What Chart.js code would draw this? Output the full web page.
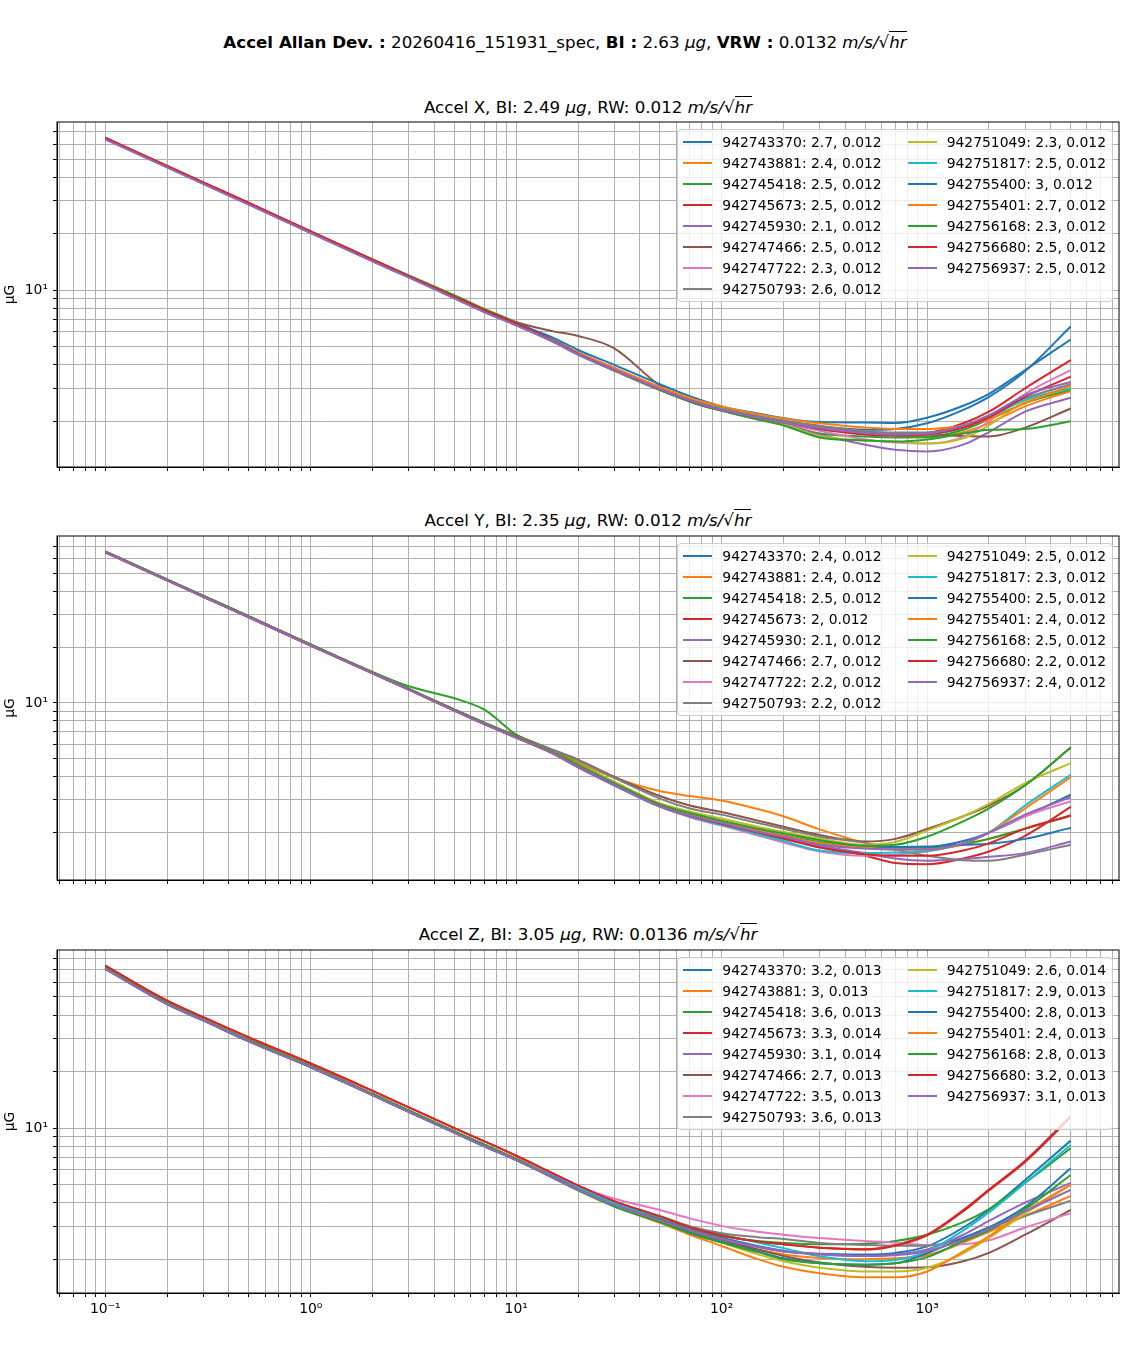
<!DOCTYPE html>
<html>
<head>
<meta charset="utf-8">
<script src="https://cdn.jsdelivr.net/npm/chart.js@4.4.1/dist/chart.umd.min.js"></script>
<style>
  body { margin: 0; background: #fff; font-family: "DejaVu Sans", sans-serif; color: #000; }
  #fig { position: relative; width: 1130px; height: 1361px; overflow: hidden; }
  canvas { position: absolute; left: 0; }
  .ttl { position: absolute; left: 57px; width: 1062px; text-align: center; font-size: 16.7px; line-height: 20px; white-space: nowrap; }
  .sup { position: absolute; left: 0; width: 1130px; top: 32px; text-align: center; font-size: 16.7px; line-height: 20px; white-space: nowrap; }
  .ov { border-top: 1px solid #000; }
  .leg { position: absolute; right: 17px; z-index: 2; background: rgba(255,255,255,0.8);
         border: 1px solid #cccccc; border-radius: 4px; padding: 5px 6px 5px 5px;
         display: grid; grid-template-rows: repeat(8, 14px); grid-auto-flow: column;
         row-gap: 7px; column-gap: 26px; font-size: 13.9px; line-height: 14px; }
  .item { display: flex; align-items: center; white-space: nowrap; }
  .hd { width: 29px; height: 2px; margin-right: 10px; }
</style>
</head>
<body>
<div id="fig">
  <div class="sup" id="sup"></div>
  <div class="ttl" id="t0" style="top:97px"></div>
  <div class="ttl" id="t1" style="top:510px"></div>
  <div class="ttl" id="t2" style="top:924px"></div>
  <canvas id="c0" width="1130" height="366" style="top:114px"></canvas>
  <canvas id="c1" width="1130" height="366" style="top:528px"></canvas>
  <canvas id="c2" width="1130" height="419" style="top:942px"></canvas>
  <div class="leg" id="l0" style="top:129px"></div>
  <div class="leg" id="l1" style="top:543px"></div>
  <div class="leg" id="l2" style="top:957px"></div>
</div>
<script>
// averaging times (s)
const taus = [0.1, 0.2, 0.3, 0.5, 1, 2, 3, 5, 7, 10, 15, 20, 30, 50, 70, 100, 150, 200, 300, 500, 700, 1000, 1500, 2000, 3000, 5000];

const serials = ['942743370', '942743881', '942745418', '942745673', '942745930', '942747466', '942747722', '942750793',
                 '942751049', '942751817', '942755400', '942755401', '942756168', '942756680', '942756937'];

const biX = [2.7, 2.4, 2.5, 2.5, 2.1, 2.5, 2.3, 2.6, 2.3, 2.5, 3, 2.7, 2.3, 2.5, 2.5];
const rwX = [0.012, 0.012, 0.012, 0.012, 0.012, 0.012, 0.012, 0.012, 0.012, 0.012, 0.012, 0.012, 0.012, 0.012, 0.012];
const biY = [2.4, 2.4, 2.5, 2, 2.1, 2.7, 2.2, 2.2, 2.5, 2.3, 2.5, 2.4, 2.5, 2.2, 2.4];
const rwY = [0.012, 0.012, 0.012, 0.012, 0.012, 0.012, 0.012, 0.012, 0.012, 0.012, 0.012, 0.012, 0.012, 0.012, 0.012];
const biZ = [3.2, 3, 3.6, 3.3, 3.1, 2.7, 3.5, 3.6, 2.6, 2.9, 2.8, 2.4, 2.8, 3.2, 3.1];
const rwZ = [0.013, 0.013, 0.013, 0.014, 0.014, 0.013, 0.013, 0.013, 0.014, 0.013, 0.013, 0.013, 0.013, 0.013, 0.013];

const panelNames = ['Accel X', 'Accel Y', 'Accel Z'];
const panelBI = [2.49, 2.35, 3.05];
const panelRW = [0.012, 0.012, 0.0136];
const runName = '20260416_151931_spec';
const totalBI = 2.63;
const totalVRW = 0.0132;

// Allan deviation, µG, one row per sensor
const adevX = [
  [64.5, 45.6, 37.3, 28.9, 20.4, 14.4, 11.8, 9.15, 7.75, 6.6, 5.45, 4.65, 3.85, 3.02, 2.63, 2.34, 2.12, 2.0, 1.88, 1.8, 1.82, 1.95, 2.3, 2.7, 3.7, 6.4],
  [64.5, 45.6, 37.3, 28.9, 20.4, 14.4, 11.8, 9.15, 7.75, 6.6, 5.4, 4.62, 3.82, 3.02, 2.64, 2.36, 2.13, 2.01, 1.88, 1.75, 1.68, 1.64, 1.75, 1.95, 2.4, 2.9],
  [64.5, 45.6, 37.4, 29.1, 20.6, 14.6, 12.0, 9.4, 7.95, 6.75, 5.45, 4.6, 3.75, 2.95, 2.55, 2.28, 2.05, 1.92, 1.72, 1.66, 1.64, 1.65, 1.8, 2.05, 2.5, 2.95],
  [65.1, 46.0, 37.6, 29.2, 20.6, 14.55, 11.9, 9.25, 7.85, 6.65, 5.4, 4.58, 3.76, 2.97, 2.58, 2.3, 2.09, 1.97, 1.83, 1.73, 1.7, 1.73, 1.95, 2.25, 3.0, 4.24],
  [63.9, 45.2, 36.9, 28.6, 20.2, 14.25, 11.7, 9.05, 7.65, 6.5, 5.32, 4.52, 3.72, 2.93, 2.55, 2.28, 2.07, 1.94, 1.7, 1.5, 1.41, 1.38, 1.5, 1.75, 2.25, 2.67],
  [64.5, 45.6, 37.3, 28.9, 20.4, 14.4, 11.8, 9.15, 7.8, 6.75, 6.05, 5.7, 4.9, 3.1, 2.55, 2.28, 2.1, 1.98, 1.83, 1.74, 1.72, 1.7, 1.67, 1.66, 1.85, 2.34],
  [64.5, 45.6, 37.3, 28.9, 20.4, 14.4, 11.8, 9.15, 7.75, 6.6, 5.38, 4.58, 3.76, 2.96, 2.58, 2.3, 2.08, 1.95, 1.78, 1.6, 1.54, 1.52, 1.65, 2.0, 2.8, 3.75],
  [64.5, 45.6, 37.3, 28.9, 20.4, 14.4, 11.8, 9.15, 7.75, 6.6, 5.42, 4.63, 3.83, 3.02, 2.64, 2.36, 2.14, 2.02, 1.89, 1.77, 1.74, 1.74, 1.88, 2.15, 2.65, 3.15],
  [64.5, 45.6, 37.3, 28.9, 20.4, 14.4, 11.8, 9.15, 7.75, 6.6, 5.38, 4.58, 3.76, 2.95, 2.56, 2.28, 2.05, 1.92, 1.67, 1.58, 1.56, 1.52, 1.62, 1.9, 2.55, 3.0],
  [64.5, 45.6, 37.3, 28.9, 20.4, 14.4, 11.8, 9.15, 7.75, 6.6, 5.4, 4.6, 3.8, 2.99, 2.6, 2.32, 2.1, 1.98, 1.82, 1.72, 1.7, 1.7, 1.85, 2.1, 2.6, 3.0],
  [64.5, 45.6, 37.3, 28.9, 20.4, 14.4, 11.8, 9.15, 7.75, 6.65, 5.6, 4.8, 4.0, 3.15, 2.72, 2.4, 2.2, 2.08, 1.98, 1.97, 1.96, 2.09, 2.42, 2.8, 3.75, 5.46],
  [64.5, 45.6, 37.3, 28.9, 20.4, 14.4, 11.8, 9.15, 7.75, 6.6, 5.42, 4.64, 3.85, 3.05, 2.66, 2.4, 2.18, 2.07, 1.95, 1.85, 1.82, 1.82, 1.9, 2.05, 2.5, 3.1],
  [64.5, 45.6, 37.3, 28.9, 20.4, 14.4, 11.8, 9.15, 7.75, 6.6, 5.38, 4.58, 3.75, 2.94, 2.55, 2.28, 2.04, 1.9, 1.64, 1.58, 1.56, 1.6, 1.72, 1.8, 1.82, 2.0],
  [65.1, 46.0, 37.6, 29.2, 20.6, 14.55, 11.9, 9.25, 7.85, 6.65, 5.4, 4.58, 3.76, 2.97, 2.58, 2.3, 2.09, 1.97, 1.82, 1.7, 1.68, 1.7, 1.85, 2.1, 2.7, 3.46],
  [63.9, 45.2, 36.9, 28.6, 20.2, 14.25, 11.7, 9.05, 7.65, 6.5, 5.36, 4.56, 3.76, 2.97, 2.58, 2.3, 2.09, 1.97, 1.84, 1.73, 1.7, 1.72, 1.9, 2.15, 2.75, 3.24]
];

const adevY = [
  [65.5, 46.2, 37.8, 29.3, 20.6, 14.6, 11.9, 9.2, 7.8, 6.6, 5.4, 4.55, 3.65, 2.82, 2.5, 2.28, 2.04, 1.9, 1.73, 1.66, 1.64, 1.66, 1.8, 2.0, 2.45, 3.2],
  [65.5, 46.2, 37.8, 29.3, 20.6, 14.6, 11.9, 9.2, 7.8, 6.6, 5.55, 4.8, 3.95, 3.35, 3.15, 2.98, 2.68, 2.45, 2.08, 1.76, 1.66, 1.62, 1.72, 1.85, 2.1, 2.47],
  [65.5, 46.2, 37.8, 29.3, 20.6, 14.7, 12.3, 10.6, 9.2, 6.75, 5.5, 4.7, 3.75, 2.85, 2.52, 2.28, 2.05, 1.93, 1.78, 1.68, 1.66, 1.66, 1.74, 1.85, 2.1, 2.46],
  [65.0, 45.8, 37.4, 29.0, 20.4, 14.45, 11.8, 9.1, 7.7, 6.5, 5.35, 4.5, 3.6, 2.76, 2.45, 2.22, 1.98, 1.85, 1.68, 1.5, 1.37, 1.35, 1.45, 1.58, 1.92, 2.75],
  [65.0, 45.8, 37.4, 29.0, 20.4, 14.45, 11.8, 9.1, 7.7, 6.5, 5.38, 4.52, 3.62, 2.78, 2.47, 2.25, 2.02, 1.88, 1.7, 1.55, 1.45, 1.41, 1.44, 1.48, 1.55, 1.79],
  [65.5, 46.2, 37.8, 29.3, 20.6, 14.6, 11.9, 9.2, 7.8, 6.7, 5.6, 4.95, 4.0, 3.15, 2.8, 2.58, 2.32, 2.15, 1.94, 1.79, 1.85, 2.09, 2.45, 2.8, 3.6, 5.75],
  [65.5, 46.2, 37.8, 29.3, 20.6, 14.6, 11.9, 9.2, 7.8, 6.6, 5.35, 4.5, 3.6, 2.76, 2.42, 2.18, 1.93, 1.77, 1.58, 1.5, 1.52, 1.58, 1.75, 2.0, 2.45, 2.95],
  [65.5, 46.2, 37.8, 29.3, 20.6, 14.6, 11.9, 9.2, 7.8, 6.6, 5.6, 4.9, 3.95, 3.05, 2.7, 2.5, 2.25, 2.1, 1.9, 1.76, 1.62, 1.5, 1.42, 1.41, 1.52, 1.72],
  [65.5, 46.2, 37.8, 29.3, 20.6, 14.6, 11.9, 9.2, 7.8, 6.6, 5.45, 4.65, 3.75, 2.88, 2.6, 2.38, 2.15, 2.02, 1.85, 1.72, 1.78, 2.05, 2.45, 2.86, 3.7, 4.74],
  [65.5, 46.2, 37.8, 29.3, 20.6, 14.6, 11.9, 9.2, 7.8, 6.6, 5.38, 4.52, 3.6, 2.76, 2.44, 2.2, 1.96, 1.8, 1.6, 1.55, 1.56, 1.59, 1.75, 2.0, 2.8, 4.1],
  [65.5, 46.2, 37.8, 29.3, 20.6, 14.6, 11.9, 9.2, 7.8, 6.6, 5.4, 4.55, 3.65, 2.8, 2.5, 2.28, 2.05, 1.92, 1.76, 1.68, 1.67, 1.68, 1.72, 1.74, 1.85, 2.12],
  [65.5, 46.2, 37.8, 29.3, 20.6, 14.6, 11.9, 9.2, 7.8, 6.6, 5.4, 4.55, 3.65, 2.8, 2.5, 2.28, 2.05, 1.92, 1.76, 1.66, 1.62, 1.62, 1.75, 2.0, 2.7, 3.98],
  [65.5, 46.2, 37.8, 29.3, 20.6, 14.6, 11.9, 9.2, 7.8, 6.6, 5.45, 4.62, 3.7, 2.84, 2.55, 2.32, 2.1, 1.98, 1.82, 1.7, 1.72, 1.9, 2.3, 2.7, 3.6, 5.75],
  [65.0, 45.8, 37.4, 29.0, 20.4, 14.45, 11.8, 9.1, 7.7, 6.5, 5.38, 4.52, 3.62, 2.78, 2.46, 2.23, 2.0, 1.86, 1.66, 1.53, 1.5, 1.5, 1.6, 1.75, 2.1, 2.47],
  [65.0, 45.8, 37.4, 29.0, 20.4, 14.45, 11.8, 9.1, 7.7, 6.5, 5.38, 4.52, 3.62, 2.78, 2.47, 2.25, 2.02, 1.9, 1.72, 1.64, 1.62, 1.62, 1.75, 2.0, 2.5, 3.1]
];

const adevZ = [
  [70.5, 45.8, 37.5, 29.0, 21.1, 15.0, 12.2, 9.45, 8.0, 6.75, 5.5, 4.74, 3.92, 3.28, 2.88, 2.6, 2.35, 2.22, 2.14, 2.12, 2.16, 2.34, 2.95, 3.66, 5.29, 8.57],
  [71.5, 46.4, 37.9, 29.4, 21.4, 15.2, 12.4, 9.6, 8.15, 6.85, 5.5, 4.72, 3.9, 3.22, 2.82, 2.52, 2.25, 2.12, 2.03, 2.0, 2.02, 2.1, 2.45, 2.8, 3.4, 4.35],
  [71.5, 46.4, 37.9, 29.4, 21.4, 15.2, 12.4, 9.6, 8.15, 6.85, 5.55, 4.78, 3.95, 3.3, 2.92, 2.65, 2.5, 2.44, 2.4, 2.42, 2.5, 2.7, 3.15, 3.7, 5.1, 7.8],
  [73.5, 47.8, 39.0, 30.4, 22.1, 15.8, 12.9, 10.0, 8.5, 7.12, 5.75, 4.95, 4.08, 3.38, 2.96, 2.68, 2.48, 2.4, 2.3, 2.26, 2.38, 2.7, 3.65, 4.7, 6.7, 11.6],
  [70.5, 45.8, 37.5, 29.0, 21.1, 15.0, 12.2, 9.45, 8.0, 6.75, 5.45, 4.7, 3.88, 3.22, 2.85, 2.56, 2.32, 2.2, 2.13, 2.08, 2.12, 2.25, 2.7, 3.2, 4.0, 5.1],
  [71.5, 46.4, 37.9, 29.4, 21.4, 15.2, 12.4, 9.6, 8.15, 6.85, 5.5, 4.72, 3.9, 3.25, 2.85, 2.55, 2.25, 2.08, 1.92, 1.82, 1.8, 1.81, 1.95, 2.16, 2.7, 3.66],
  [71.5, 46.4, 37.9, 29.4, 21.4, 15.2, 12.4, 9.6, 8.15, 6.85, 5.6, 4.88, 4.2, 3.66, 3.3, 3.01, 2.8, 2.7, 2.59, 2.5, 2.45, 2.38, 2.4, 2.52, 2.95, 3.52],
  [71.5, 46.4, 37.9, 29.4, 21.4, 15.2, 12.4, 9.6, 8.15, 6.85, 5.55, 4.8, 4.0, 3.4, 3.0, 2.75, 2.62, 2.56, 2.44, 2.38, 2.36, 2.36, 2.6, 2.95, 3.4, 4.1],
  [71.5, 46.4, 37.9, 29.4, 21.4, 15.2, 12.4, 9.6, 8.15, 6.85, 5.5, 4.72, 3.88, 3.2, 2.78, 2.45, 2.12, 1.95, 1.8, 1.72, 1.72, 1.8, 2.15, 2.6, 3.5, 4.97],
  [71.5, 46.4, 37.9, 29.4, 21.4, 15.2, 12.4, 9.6, 8.15, 6.85, 5.55, 4.8, 3.98, 3.35, 2.95, 2.7, 2.45, 2.29, 2.07, 1.95, 1.98, 2.2, 2.85, 3.55, 5.1, 8.13],
  [70.5, 45.8, 37.5, 29.0, 21.1, 15.0, 12.2, 9.45, 8.0, 6.75, 5.5, 4.72, 3.88, 3.2, 2.78, 2.48, 2.2, 2.02, 1.9, 1.87, 1.9, 2.15, 2.6, 2.95, 3.8, 6.1],
  [71.5, 46.4, 37.9, 29.4, 21.4, 15.2, 12.4, 9.6, 8.15, 6.85, 5.45, 4.65, 3.82, 3.12, 2.7, 2.35, 2.0, 1.82, 1.68, 1.6, 1.6, 1.72, 2.2, 2.65, 3.6, 5.0],
  [71.5, 46.4, 37.9, 29.4, 21.4, 15.2, 12.4, 9.6, 8.15, 6.85, 5.45, 4.65, 3.82, 3.15, 2.75, 2.45, 2.18, 2.0, 1.9, 1.87, 1.9, 2.05, 2.5, 2.85, 3.7, 5.62],
  [73.5, 47.8, 39.0, 30.4, 22.1, 15.8, 12.9, 10.0, 8.5, 7.12, 5.75, 4.95, 4.08, 3.38, 2.96, 2.68, 2.48, 2.4, 2.3, 2.25, 2.36, 2.68, 3.6, 4.65, 6.6, 11.4],
  [70.5, 45.8, 37.5, 29.0, 21.1, 15.0, 12.2, 9.45, 8.0, 6.75, 5.45, 4.7, 3.88, 3.22, 2.85, 2.56, 2.32, 2.2, 2.12, 2.08, 2.1, 2.2, 2.55, 2.9, 3.6, 4.68]
];

const tab10 = ['#1f77b4', '#ff7f0e', '#2ca02c', '#d62728', '#9467bd', '#8c564b', '#e377c2', '#7f7f7f', '#bcbd22', '#17becf'];
const XMIN = 0.0582, XMAX = 8590;
const FONT = { family: 'DejaVu Sans', size: 13.9 };
const SUP = { '-': '\u207B', '0': '\u2070', '1': '\u00B9', '2': '\u00B2', '3': '\u00B3', '4': '\u2074' };

function logTicks(min, max) {
  const out = [];
  for (let e = -2; e <= 4; e++) {
    for (let m = 1; m <= 9; m++) {
      const v = m * Math.pow(10, e);
      if (v > min * 1.0001 && v < max * 0.9999) {
        out.push({ value: v, label: m === 1 ? '10' + String(e).split('').map(c => SUP[c]).join('') : '' });
      }
    }
  }
  return out;
}

const frame = {
  id: 'frame',
  afterDraw(chart) {
    const { ctx, chartArea: a } = chart;
    ctx.save();
    ctx.strokeStyle = '#000';
    ctx.lineWidth = 1;
    ctx.strokeRect(a.left, a.top, a.right - a.left, a.bottom - a.top);
    ctx.restore();
  }
};

const mathUnit = '<i>m/s/</i>\u221A<i class="ov">hr</i>';

function panel(k, rows, bis, rws, ymin, ymax, showX, xh) {
  document.getElementById('t' + k).innerHTML =
    panelNames[k] + ', BI: ' + panelBI[k] + ' <i>\u03BCg</i>, RW: ' + panelRW[k] + ' ' + mathUnit;

  const leg = document.getElementById('l' + k);
  rows.forEach((r, i) => {
    const it = document.createElement('div');
    it.className = 'item';
    it.innerHTML = '<span class="hd" style="background:' + tab10[i % 10] + '"></span>' +
                   serials[i] + ': ' + bis[i] + ', ' + rws[i];
    leg.appendChild(it);
  });

  new Chart(document.getElementById('c' + k), {
    type: 'line',
    data: {
      datasets: rows.map((r, i) => ({
        label: serials[i],
        data: r.map((v, j) => ({ x: taus[j], y: v })),
        borderColor: tab10[i % 10],
        borderWidth: 2,
        pointRadius: 0,
        fill: false,
        cubicInterpolationMode: 'monotone',
        order: rows.length - i
      }))
    },
    options: {
      responsive: false,
      animation: false,
      devicePixelRatio: 1,
      layout: { padding: { left: 0, right: 11, top: 8, bottom: 0 } },
      plugins: { legend: { display: false }, tooltip: { enabled: false } },
      scales: {
        x: {
          type: 'logarithmic', min: XMIN, max: XMAX,
          afterBuildTicks: ax => { ax.ticks = logTicks(XMIN, XMAX); },
          afterFit: ax => { ax.height = xh; ax.paddingLeft = 0; ax.paddingRight = 0; },
          ticks: { autoSkip: false, maxRotation: 0, padding: 4, color: '#000', font: FONT,
                   callback: (v, i, t) => showX ? t[i].label : '' },
          grid: { color: '#b0b0b0', lineWidth: 1, tickColor: '#000', tickLength: 4 },
          border: { color: '#000', width: 1 }
        },
        y: {
          type: 'logarithmic', min: ymin, max: ymax,
          afterBuildTicks: ax => { ax.ticks = logTicks(ymin, ymax); },
          afterFit: ax => { ax.width = 57; ax.paddingTop = 0; ax.paddingBottom = 0; },
          ticks: { autoSkip: false, padding: 5, color: '#000', font: FONT,
                   callback: (v, i, t) => t[i].label },
          grid: { color: '#b0b0b0', lineWidth: 1, tickColor: '#000', tickLength: 4 },
          border: { color: '#000', width: 1 },
          title: { display: true, text: '\u00B5G', color: '#000', font: FONT, padding: { top: 2, bottom: 0 } }
        }
      }
    },
    plugins: [frame]
  });
}

document.getElementById('sup').innerHTML =
  '<b>Accel Allan Dev. :</b> ' + runName + ', <b>BI :</b> ' + totalBI + ' <i>\u03BCg</i>, <b>VRW :</b> ' + totalVRW + ' ' + mathUnit;

panel(0, adevX, biX, rwX, 1.14, 79, false, 13);
panel(1, adevY, biY, rwY, 1.11, 79.5, false, 14);
panel(2, adevZ, biZ, rwZ, 1.32, 89, true, 68);
</script>
</body>
</html>
